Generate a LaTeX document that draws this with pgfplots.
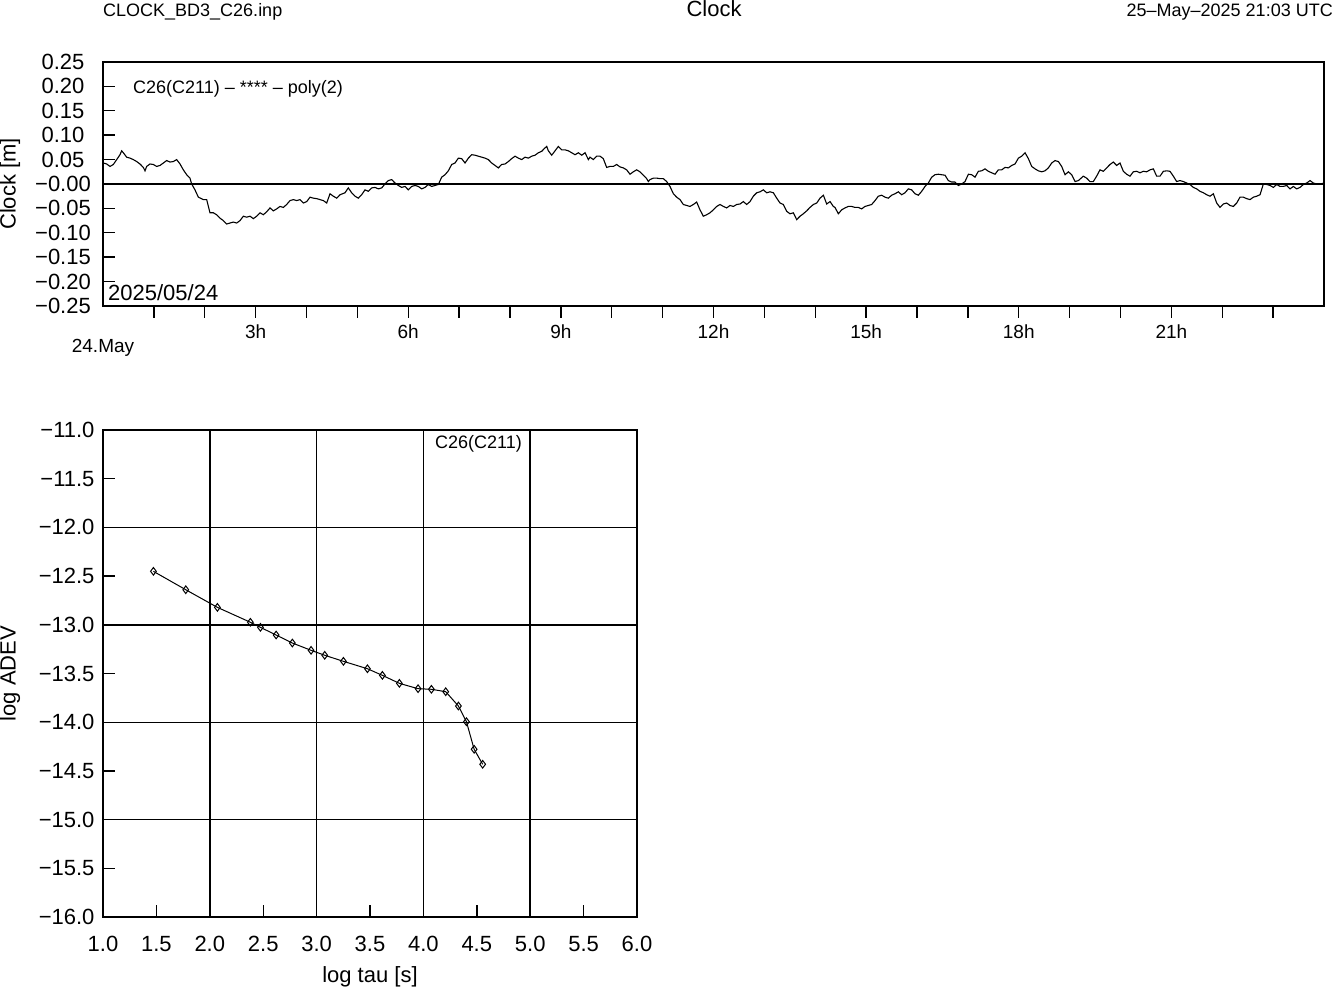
\documentclass[border=0pt]{standalone}
\usepackage{pgfplots}
\pgfplotsset{compat=1.18}
\usepackage{fontspec}
\setmainfont{Liberation Sans}

% clock residuals, hours since 24.May 00:00 vs metres
\pgfplotstableread{
h v
0.000 0.050
0.007 0.043
0.072 0.041
0.138 0.036
0.203 0.040
0.269 0.050
0.334 0.060
0.367 0.068
0.400 0.064
0.465 0.055
0.531 0.053
0.596 0.050
0.662 0.046
0.727 0.041
0.793 0.034
0.826 0.027
0.858 0.036
0.924 0.041
0.989 0.040
1.055 0.036
1.120 0.038
1.186 0.043
1.251 0.048
1.317 0.045
1.382 0.046
1.448 0.050
1.514 0.041
1.579 0.029
1.645 0.019
1.710 0.012
1.743 0.000
1.808 -0.012
1.874 -0.027
1.972 -0.032
2.038 -0.032
2.103 -0.059
2.169 -0.059
2.234 -0.063
2.300 -0.070
2.365 -0.075
2.431 -0.082
2.496 -0.080
2.562 -0.078
2.628 -0.080
2.693 -0.075
2.759 -0.066
2.824 -0.068
2.890 -0.066
2.955 -0.071
3.021 -0.066
3.086 -0.059
3.152 -0.063
3.217 -0.057
3.283 -0.049
3.348 -0.055
3.414 -0.051
3.479 -0.046
3.545 -0.048
3.610 -0.042
3.676 -0.034
3.741 -0.032
3.807 -0.034
3.872 -0.032
3.938 -0.039
4.004 -0.036
4.069 -0.027
4.135 -0.029
4.200 -0.030
4.266 -0.032
4.331 -0.034
4.397 -0.039
4.462 -0.020
4.528 -0.025
4.593 -0.029
4.659 -0.022
4.757 -0.018
4.822 -0.008
4.888 -0.018
4.953 -0.025
5.019 -0.029
5.084 -0.022
5.150 -0.012
5.216 -0.015
5.281 -0.008
5.347 -0.007
5.412 -0.010
5.478 -0.008
5.543 0.000
5.609 0.007
5.674 0.009
5.740 0.002
5.805 -0.003
5.871 -0.007
5.936 -0.005
6.002 -0.012
6.067 -0.005
6.133 -0.003
6.199 -0.005
6.264 -0.010
6.330 -0.007
6.395 -0.001
6.461 -0.005
6.526 -0.003
6.592 -0.001
6.657 0.014
6.723 0.019
6.788 0.027
6.854 0.040
6.919 0.043
6.985 0.053
7.050 0.052
7.116 0.043
7.182 0.053
7.247 0.060
7.313 0.059
7.378 0.057
7.444 0.055
7.509 0.053
7.575 0.050
7.640 0.043
7.706 0.038
7.771 0.033
7.837 0.040
7.902 0.041
7.968 0.046
8.033 0.052
8.099 0.057
8.165 0.053
8.230 0.050
8.296 0.055
8.361 0.053
8.427 0.057
8.492 0.059
8.558 0.064
8.623 0.067
8.689 0.074
8.722 0.077
8.754 0.068
8.820 0.059
8.885 0.068
8.951 0.077
9.016 0.070
9.082 0.070
9.148 0.068
9.213 0.064
9.279 0.060
9.344 0.064
9.410 0.059
9.475 0.064
9.541 0.050
9.572 0.055
9.638 0.050
9.703 0.057
9.769 0.057
9.834 0.052
9.900 0.034
9.965 0.036
10.031 0.036
10.097 0.040
10.162 0.035
10.228 0.033
10.293 0.029
10.359 0.020
10.424 0.025
10.490 0.029
10.555 0.025
10.621 0.018
10.686 0.011
10.719 0.005
10.752 0.009
10.817 0.012
10.883 0.012
10.948 0.011
11.014 0.011
11.080 0.005
11.145 -0.005
11.211 -0.020
11.276 -0.027
11.342 -0.032
11.407 -0.042
11.473 -0.044
11.538 -0.046
11.604 -0.042
11.669 -0.037
11.735 -0.053
11.800 -0.066
11.866 -0.063
11.931 -0.059
11.997 -0.053
12.063 -0.046
12.128 -0.042
12.194 -0.046
12.259 -0.049
12.325 -0.044
12.390 -0.046
12.456 -0.042
12.521 -0.041
12.587 -0.036
12.652 -0.042
12.718 -0.036
12.783 -0.025
12.849 -0.018
12.914 -0.016
12.980 -0.012
13.046 -0.018
13.111 -0.016
13.177 -0.018
13.242 -0.029
13.308 -0.039
13.373 -0.042
13.439 -0.056
13.504 -0.061
13.570 -0.059
13.635 -0.073
13.701 -0.066
13.766 -0.061
13.832 -0.055
13.897 -0.048
13.963 -0.042
14.029 -0.039
14.094 -0.029
14.160 -0.023
14.225 -0.041
14.291 -0.036
14.356 -0.046
14.388 -0.048
14.454 -0.061
14.519 -0.053
14.585 -0.049
14.650 -0.046
14.716 -0.046
14.781 -0.048
14.847 -0.048
14.912 -0.051
14.978 -0.046
15.044 -0.044
15.109 -0.042
15.175 -0.034
15.240 -0.025
15.306 -0.023
15.371 -0.027
15.437 -0.029
15.502 -0.023
15.568 -0.020
15.633 -0.016
15.699 -0.022
15.764 -0.018
15.830 -0.010
15.895 -0.012
15.961 -0.020
16.027 -0.023
16.092 -0.015
16.158 -0.005
16.223 0.002
16.289 0.014
16.354 0.019
16.420 0.020
16.485 0.019
16.551 0.018
16.616 0.007
16.682 0.004
16.747 0.004
16.813 -0.003
16.878 0.000
16.944 0.005
17.010 0.020
17.075 0.019
17.141 0.014
17.206 0.026
17.272 0.027
17.337 0.031
17.403 0.026
17.468 0.023
17.534 0.020
17.599 0.029
17.665 0.029
17.730 0.034
17.796 0.033
17.861 0.038
17.927 0.041
17.993 0.053
18.058 0.057
18.124 0.064
18.189 0.052
18.255 0.036
18.320 0.031
18.386 0.027
18.451 0.025
18.517 0.027
18.582 0.033
18.648 0.043
18.713 0.048
18.779 0.046
18.844 0.036
18.910 0.019
18.976 0.025
19.041 0.019
19.107 0.005
19.172 0.007
19.269 0.016
19.335 0.012
19.400 0.005
19.466 0.005
19.531 0.016
19.597 0.029
19.663 0.026
19.728 0.033
19.794 0.040
19.859 0.045
19.925 0.038
19.990 0.043
20.056 0.026
20.121 0.020
20.187 0.016
20.252 0.025
20.318 0.026
20.383 0.023
20.449 0.026
20.514 0.025
20.580 0.029
20.646 0.031
20.711 0.016
20.777 0.016
20.842 0.026
20.908 0.027
20.973 0.026
21.039 0.016
21.104 0.005
21.170 0.007
21.235 0.005
21.301 0.002
21.366 -0.001
21.432 -0.007
21.497 -0.010
21.563 -0.015
21.629 -0.018
21.694 -0.022
21.760 -0.025
21.825 -0.020
21.891 -0.039
21.956 -0.048
22.022 -0.041
22.087 -0.039
22.153 -0.044
22.218 -0.046
22.284 -0.039
22.349 -0.027
22.415 -0.027
22.480 -0.030
22.546 -0.032
22.612 -0.027
22.677 -0.025
22.743 -0.022
22.808 0.000
22.874 -0.001
22.939 -0.003
23.005 -0.007
23.070 -0.001
23.136 -0.005
23.201 -0.005
23.267 -0.003
23.332 -0.010
23.398 -0.005
23.463 -0.010
23.529 -0.007
23.595 -0.001
23.660 0.002
23.726 0.007
23.791 0.002
23.857 0.000
23.922 0.000
24.000 0.002
}\clockdata

% Allan deviation, log10 tau [s] vs log10 ADEV
\pgfplotstableread{
lt la
1.472 -12.451
1.775 -12.640
2.071 -12.821
2.380 -12.974
2.474 -13.026
2.621 -13.105
2.773 -13.187
2.948 -13.262
3.076 -13.313
3.251 -13.375
3.476 -13.451
3.616 -13.519
3.775 -13.601
3.950 -13.656
4.075 -13.662
4.209 -13.687
4.328 -13.834
4.403 -13.995
4.475 -14.278
4.555 -14.432
}\adevdata

\begin{document}
\begin{tikzpicture}
\path[use as bounding box] (0,0) rectangle (1333pt,989pt);

\begin{axis}[
    at={(103pt,683pt)}, anchor=south west, scale only axis,
    width=1221pt, height=244pt,
    xmin=0, xmax=24, ymin=-0.25, ymax=0.25,
    axis line style={line width=1.6pt},
    tick align=inside, xtick pos=left, ytick pos=left,
    major tick length=12pt,
    tick style={line width=1.4pt, black},
    every major x tick/.append style={yshift=-12pt},
    xtick={1,...,23},
    xticklabels={{},{},3h,{},{},6h,{},{},9h,{},{},12h,{},{},15h,{},{},18h,{},{},21h,{},{}},
    xticklabel style={anchor=base, yshift=-33pt, font=\fontsize{19}{22}\selectfont},
    ytick={-0.25,-0.20,-0.15,-0.10,-0.05,0,0.05,0.10,0.15,0.20,0.25},
    yticklabels={−0.25,−0.20,−0.15,−0.10,−0.05,−0.00,0.05,0.10,0.15,0.20,0.25},
    yticklabel style={anchor=center, xshift=-40pt, font=\fontsize{22}{26}\selectfont},
    ylabel={Clock [m]},
    every axis y label/.style={at={(axis description cs:-0.0762,0.5)}, rotate=90, anchor=center, font=\fontsize{22}{26}\selectfont},
  ]
  \addplot[black, line width=1.6pt] coordinates {(0,0) (24,0)};
  \addplot[black, line width=1.1pt] table[x=h, y=v] {\clockdata};
\end{axis}

\begin{axis}[
    at={(103pt,72pt)}, anchor=south west, scale only axis,
    width=534pt, height=487pt,
    xmin=1, xmax=6, ymin=-16, ymax=-11,
    axis line style={line width=1.6pt},
    tick align=inside, xtick pos=left, ytick pos=left,
    major tick length=12pt,
    tick style={line width=1.4pt, black},
    xtick={1,1.5,2,2.5,3,3.5,4,4.5,5,5.5,6},
    xticklabels={1.0,1.5,2.0,2.5,3.0,3.5,4.0,4.5,5.0,5.5,6.0},
    xticklabel style={anchor=base, yshift=-34pt, font=\fontsize{22}{26}\selectfont},
    ytick={-16,-15.5,-15,-14.5,-14,-13.5,-13,-12.5,-12,-11.5,-11},
    yticklabels={−16.0,−15.5,−15.0,−14.5,−14.0,−13.5,−13.0,−12.5,−12.0,−11.5,−11.0},
    yticklabel style={anchor=east, xshift=-5pt, font=\fontsize{22}{26}\selectfont},
    xlabel={log tau [s]},
    ylabel={log ADEV},
    every axis x label/.style={at={(axis description cs:0.5,0)}, anchor=center, yshift=-60pt, font=\fontsize{22}{26}\selectfont},
    every axis y label/.style={at={(axis description cs:-0.1742,0.5)}, rotate=90, anchor=center, font=\fontsize{22}{26}\selectfont},
  ]
  \draw[line width=1.6pt] (2,-16) -- (2,-11);
  \draw[line width=1.6pt] (3,-16) -- (3,-11);
  \draw[line width=1.6pt] (4,-16) -- (4,-11);
  \draw[line width=1.6pt] (5,-16) -- (5,-11);
  \draw[line width=1.6pt] (1,-12) -- (6,-12);
  \draw[line width=1.6pt] (1,-13) -- (6,-13);
  \draw[line width=0.9pt] (1,-14) -- (6,-14);
  \draw[line width=0.9pt] (1,-15) -- (6,-15);
  \addplot[black, line width=1pt, mark=diamond, mark size=3.8pt,
    mark options={solid, fill=white, line width=1pt}] table[x=lt, y=la] {\adevdata};
\end{axis}

\node[anchor=base west, inner sep=0pt, font=\fontsize{18}{21}\selectfont] at (103pt,972pt) {CLOCK\_BD3\_C26.inp};
\node[anchor=base, inner sep=0pt, font=\fontsize{22}{26}\selectfont] at (714pt,972pt) {Clock};
\node[anchor=base east, inner sep=0pt, font=\fontsize{18}{21}\selectfont] at (1333pt,972pt) {25–May–2025 21:03 UTC};
\node[anchor=base west, inner sep=0pt, font=\fontsize{18}{21}\selectfont] at (133pt,895pt) {C26(C211) – **** – poly(2)};
\node[anchor=base west, inner sep=0pt, font=\fontsize{22}{26}\selectfont] at (108pt,688pt) {2025/05/24};
\node[anchor=base, inner sep=0pt, font=\fontsize{19}{22}\selectfont] at (103pt,636pt) {24.May};
\node[anchor=base west, inner sep=0pt, font=\fontsize{18}{21}\selectfont] at (435pt,540pt) {C26(C211)};
\end{tikzpicture}
\end{document}
